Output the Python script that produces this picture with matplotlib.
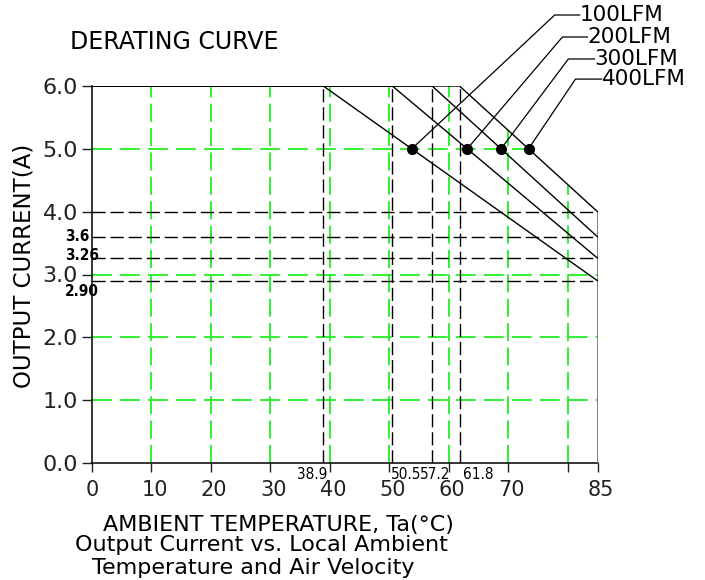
import matplotlib
matplotlib.use("Agg")
import matplotlib.pyplot as plt
import matplotlib.transforms as mtransforms
from matplotlib import font_manager
import numpy as np

# derating data
AIRFLOW = ["100LFM", "200LFM", "300LFM", "400LFM"]
KNEE_TEMP = [38.9, 50.5, 57.2, 61.8]      # full load up to this Ta
END_CURRENT = [2.90, 3.26, 3.6, 4.0]      # current left at 85 C
KNEE_LABELS = ["38.9", "50.5", "57.2", "61.8"]
END_LABELS = ["2.90", "3.26", "3.6"]
MAX_CURRENT = 6.0
MAX_TEMP = 85
MARK_CURRENT = 5.0

X_TICKS = [0, 10, 20, 30, 40, 50, 60, 70, 80, 85]
X_TICK_LABELS = ["0", "10", "20", "30", "40", "50", "60", "70", "", "85"]
Y_TICKS = [0, 1, 2, 3, 4, 5, 6]
GRID_X = [10, 20, 30, 40, 50, 60, 70, 80]
GRID_Y = [1, 2, 3, 5]

# leader lines for the legend labels (elbow x, elbow y, end x), layout only
LEADERS = [(77.8, 7.13, 82.0), (79.1, 6.78, 83.3),
           (80.1, 6.43, 84.5), (81.3, 6.11, 85.7)]

GREEN = "#22ee22"
W, H = 705, 580

names = {f.name for f in font_manager.fontManager.ttflist}
narrow = "Liberation Sans Narrow" if "Liberation Sans Narrow" in names else "DejaVu Sans"

fig = plt.figure(figsize=(W / 100, H / 100), dpi=100)
ax = fig.add_axes([92 / W, (H - 463) / H, 505.5 / W, 377 / H])
ax.set_xlim(0, MAX_TEMP)
ax.set_ylim(0, MAX_CURRENT)

for s in ["top", "right"]:
    ax.spines[s].set_visible(False)
for s in ["left", "bottom"]:
    ax.spines[s].set_linewidth(1.1)
    ax.spines[s].set_color("black")

# envelope = best airflow curve, grid lines stop there
env_x = [0, KNEE_TEMP[-1], MAX_TEMP]
env_y = [MAX_CURRENT, MAX_CURRENT, END_CURRENT[-1]]

for gx in GRID_X:
    top = np.interp(gx, env_x, env_y)
    ax.plot([gx, gx], [0, top], color=GREEN, lw=1.3, dashes=(10, 3.5), zorder=1)
for gy in GRID_Y:
    if gy <= END_CURRENT[-1]:
        right = MAX_TEMP
    else:
        right = np.interp(gy, [END_CURRENT[-1], MAX_CURRENT], [MAX_TEMP, KNEE_TEMP[-1]])
    ax.plot([0, right], [gy, gy], color=GREEN, lw=1.3, dashes=(11, 4.5), zorder=1)

# black reference lines
for t in KNEE_TEMP:
    ax.plot([t, t], [0, MAX_CURRENT], color="black", lw=1.0, dashes=(9.5, 3.5), zorder=2)
for c in END_CURRENT:
    ax.plot([0, MAX_TEMP], [c, c], color="black", lw=1.0, dashes=(9.5, 3.5), zorder=2)

ax.plot([MAX_TEMP, MAX_TEMP], [0, END_CURRENT[-1]], color="#777777", lw=2, zorder=3)

# derating curves and marker dots
for name, t, c, (ex, ey, lx) in zip(AIRFLOW, KNEE_TEMP, END_CURRENT, LEADERS):
    ax.plot([0, t, MAX_TEMP], [MAX_CURRENT, MAX_CURRENT, c], color="black", lw=1.0, zorder=4)
    dx = np.interp(MARK_CURRENT, [c, MAX_CURRENT], [MAX_TEMP, t])
    ax.plot([dx], [MARK_CURRENT], marker="o", ms=7, color="black", zorder=5)
    ax.plot([dx, ex, lx], [MARK_CURRENT, ey, ey], color="black", lw=0.9,
            clip_on=False, zorder=5)
    ax.text(lx, ey, name, fontsize=15.5, va="center", ha="left")

# ticks
ax.set_xticks(X_TICKS)
ax.set_xticklabels(X_TICK_LABELS)
ax.set_yticks(Y_TICKS)
ax.set_yticklabels([f"{v:.1f}" for v in Y_TICKS])
ax.tick_params(axis="x", direction="out", length=6.5, width=1, pad=6, labelsize=15, colors="#222222")
ax.tick_params(axis="y", direction="out", length=7, width=1, pad=3, labelsize=16, colors="#222222")
shift = mtransforms.ScaledTranslation(3 / 100, 0, fig.dpi_scale_trans)
for lab in ax.get_xticklabels()[1:]:
    lab.set_transform(lab.get_transform() + shift)

# small condensed labels for knee temperatures and end currents
knee_align = [("right", 0.6), ("left", -0.3), ("center", 0.5), ("left", 0.5)]
for t, txt, (ha, off) in zip(KNEE_TEMP, KNEE_LABELS, knee_align):
    ax.text(t + off, -0.07, txt, fontsize=11, family=narrow, fontstretch="condensed",
            ha=ha, va="top", clip_on=False)
end_off = [-0.17, 0.05, 0.0]
for c, txt, off in zip(END_CURRENT, END_LABELS, end_off):
    ax.text(-4.6, c + off, txt, fontsize=11, family=narrow, fontstretch="condensed",
            fontweight="bold", ha="left", va="center", clip_on=False)

# titles and captions
fig.text(70 / W, 1 - 49 / H, "DERATING CURVE", fontsize=17, va="baseline")
fig.text(24 / W, 1 - 266 / H, "OUTPUT CURRENT(A)", fontsize=16.5, rotation=90,
         ha="center", va="center")
fig.text(103 / W, 1 - 531 / H, "AMBIENT TEMPERATURE, Ta(°C)", fontsize=16, va="baseline")
fig.text(75 / W, 1 - 551 / H, "Output Current vs. Local Ambient", fontsize=16, va="baseline")
fig.text(92 / W, 1 - 574 / H, "Temperature and Air Velocity", fontsize=16, va="baseline")

fig.savefig("out.png", dpi=100)
